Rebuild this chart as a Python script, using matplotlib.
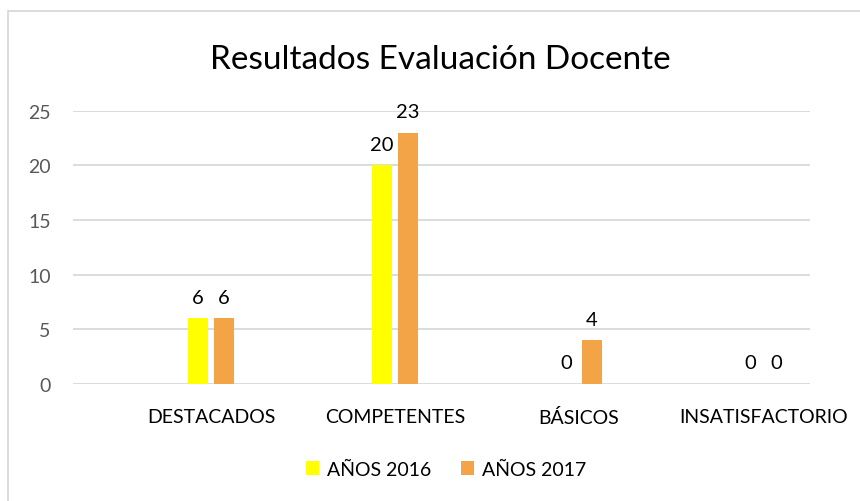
import matplotlib
matplotlib.use("Agg")
import matplotlib.pyplot as plt
from matplotlib.patches import Rectangle, Patch
import numpy as np

plt.rcParams['font.family'] = ['Lato', 'DejaVu Sans']

# data
categorias = ["DESTACADOS", "COMPETENTES", "BÁSICOS", "INSATISFACTORIO"]
anio_2016 = [6, 20, 0, 0]
anio_2017 = [6, 23, 4, 0]
series = ["AÑOS 2016", "AÑOS 2017"]
colores = ["#FFFF00", "#F2A447"]

fig = plt.figure(figsize=(8.6, 5.02), dpi=100)
ax = fig.add_axes([73/860, 1-385/502, (810-73)/860, (385-111.7)/502])

x = np.arange(len(categorias))
ancho = 0.109
desp = 0.0707

b1 = ax.bar(x - desp, anio_2016, ancho, color=colores[0], zorder=3)
b2 = ax.bar(x + desp, anio_2017, ancho, color=colores[1], zorder=3)

for barras in (b1, b2):
    for b in barras:
        ax.annotate(f"{int(b.get_height())}", (b.get_x() + b.get_width()/2, b.get_height()),
                    xytext=(0, 9), textcoords="offset points", ha="center", va="bottom",
                    fontsize=14.5, color="black")

ax.set_xlim(-0.75, 3.255)
ax.set_ylim(0, 25)
ax.set_yticks([0, 5, 10, 15, 20, 25])
ax.set_xticks(x)
ax.set_xticklabels(categorias, fontsize=14, color="black")
ax.tick_params(axis="y", length=0, pad=16, labelsize=14, labelcolor="#595959")
ax.tick_params(axis="x", length=0, pad=17)
ax.grid(axis="y", color="#D9D9D9", linewidth=1.3, zorder=0)
for s in ax.spines.values():
    s.set_visible(False)

fig.text(440/860, 1-69/502, "Resultados Evaluación Docente", ha="center", va="baseline",
         fontsize=24, color="black")

handles = [Patch(facecolor=c, label=s) for c, s in zip(colores, series)]
fig.legend(handles=handles, loc="center", bbox_to_anchor=(446/860, 1-470/502), ncol=2,
           frameon=False, fontsize=14, handlelength=0.7, handleheight=0.7,
           handletextpad=0.4, columnspacing=1.5)

# chart border (only left/top visible in the crop)
fig.patches.append(Rectangle((8/860, -0.1), 2, 1.1-12/502, transform=fig.transFigure,
                             fill=False, edgecolor="#D9D9D9", linewidth=1.3))

fig.savefig("out.png", dpi=100, facecolor="white")
